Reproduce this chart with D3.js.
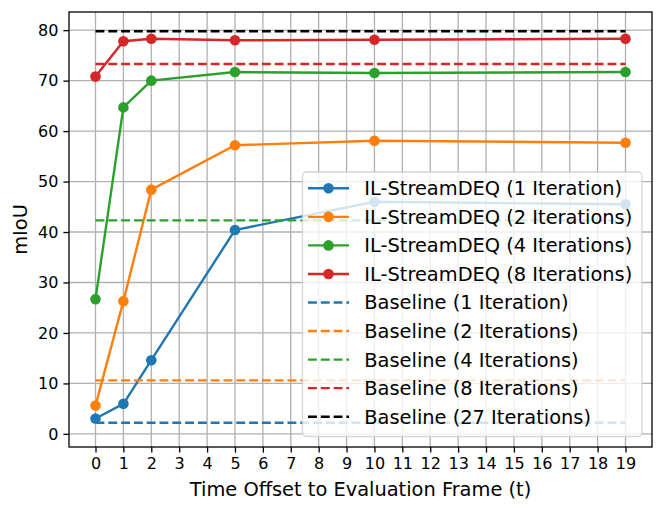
<!DOCTYPE html>
<html>
<head>
<meta charset="utf-8">
<script src="https://cdn.jsdelivr.net/npm/d3@7"></script>
<style>
  body { margin: 0; background: #fff; }
  svg { font-family: "DejaVu Sans", sans-serif; }
</style>
</head>
<body>
<svg id="chart" width="664" height="511"></svg>
<script>
// time offsets where IL-StreamDEQ was evaluated
var offsets = [0, 1, 2, 5, 10, 19];
var xTicks = d3.range(0, 20);
var yTicks = [0, 10, 20, 30, 40, 50, 60, 70, 80];

var il1 = [3.05, 5.95, 14.6, 40.4, 46.0, 45.5];
var il2 = [5.6, 26.3, 48.4, 57.2, 58.1, 57.7];
var il4 = [26.7, 64.7, 70.0, 71.7, 71.5, 71.7];
var il8 = [70.8, 77.8, 78.3, 78.0, 78.1, 78.3];

var baseNames = ["Baseline (1 Iteration)", "Baseline (2 Iterations)", "Baseline (4 Iterations)",
                 "Baseline (8 Iterations)", "Baseline (27 Iterations)"];
var baseValues = [2.2, 10.6, 42.3, 73.3, 79.8];

var ilNames = ["IL-StreamDEQ (1 Iteration)", "IL-StreamDEQ (2 Iterations)",
               "IL-StreamDEQ (4 Iterations)", "IL-StreamDEQ (8 Iterations)"];
var ilSeries = [il1, il2, il4, il8];

var colors = ["#1f77b4", "#ff7f0e", "#2ca02c", "#d62728", "#000000"];

var axLeft = 69, axRight = 652, axTop = 12, axBottom = 447,
    lw = 2.4, dash = "8.9,3.9", markerR = 5.3;

var svg = d3.select("#chart");

var x = d3.scaleLinear().domain([-0.95, 19.95]).range([axLeft, axRight]);
var y = d3.scaleLinear().domain([-2.6, 83.6]).range([axBottom, axTop]);

// grid
var grid = svg.append("g").attr("stroke", "#b0b0b0").attr("stroke-width", 1.3);
grid.selectAll(".gx").data(xTicks).enter().append("line")
    .attr("x1", function(d) { return x(d); })
    .attr("x2", function(d) { return x(d); })
    .attr("y1", axTop).attr("y2", axBottom);
grid.selectAll(".gy").data(yTicks).enter().append("line")
    .attr("y1", function(d) { return y(d); })
    .attr("y2", function(d) { return y(d); })
    .attr("x1", axLeft).attr("x2", axRight);

var line = d3.line()
    .x(function(d, i) { return x(offsets[i]); })
    .y(function(d) { return y(d); });

// IL-StreamDEQ curves
ilSeries.forEach(function(s, k) {
    var g = svg.append("g");
    g.append("path")
        .attr("d", line(s))
        .attr("fill", "none")
        .attr("stroke", colors[k])
        .attr("stroke-width", lw);
    g.selectAll("circle").data(s).enter().append("circle")
        .attr("cx", function(d, i) { return x(offsets[i]); })
        .attr("cy", function(d) { return y(d); })
        .attr("r", markerR)
        .attr("fill", colors[k]);
});

// baselines
svg.append("g").selectAll("line").data(baseValues).enter().append("line")
    .attr("x1", x(0)).attr("x2", x(19))
    .attr("y1", function(d) { return y(d); })
    .attr("y2", function(d) { return y(d); })
    .attr("stroke", function(d, i) { return colors[i]; })
    .attr("stroke-width", lw)
    .attr("stroke-dasharray", dash);

// axes
var xAxis = d3.axisBottom(x).tickValues(xTicks).tickSize(5.6).tickPadding(5);
var yAxis = d3.axisLeft(y).tickValues(yTicks).tickSize(5.6).tickPadding(5);

var gx = svg.append("g").attr("transform", "translate(0," + axBottom + ")").call(xAxis);
var gy = svg.append("g").attr("transform", "translate(" + axLeft + ",0)").call(yAxis);
[gx, gy].forEach(function(g) {
    g.select(".domain").remove();
    g.selectAll(".tick line").attr("stroke", "#000").attr("stroke-width", 1.3);
    g.selectAll(".tick text").attr("fill", "#000")
        .style("font-size", "16px").style("font-family", "DejaVu Sans");
});

svg.append("rect")
    .attr("x", axLeft).attr("y", axTop)
    .attr("width", axRight - axLeft).attr("height", axBottom - axTop)
    .attr("fill", "none").attr("stroke", "#000").attr("stroke-width", 1.3);

svg.append("text")
    .attr("x", (axLeft + axRight) / 2).attr("y", 496)
    .attr("text-anchor", "middle")
    .style("font-size", "19.4px")
    .text("Time Offset to Evaluation Frame (t)");

svg.append("text")
    .attr("transform", "translate(27," + (axTop + axBottom) / 2 + ") rotate(-90)")
    .attr("text-anchor", "middle")
    .style("font-size", "19.4px")
    .text("mIoU");

// legend
var legend = svg.append("g");
var lx = 302.5, ly = 172, lwid = 339.5, lhei = 264.5, rowY = 188.3, rowStep = 28.55;
legend.append("rect")
    .attr("x", lx).attr("y", ly).attr("width", lwid).attr("height", lhei)
    .attr("rx", 4).attr("ry", 4)
    .attr("fill", "#fff").attr("fill-opacity", 0.8)
    .attr("stroke", "#cccccc").attr("stroke-opacity", 0.8).attr("stroke-width", 1.3);

var entries = ilNames.map(function(n, i) { return {name: n, color: colors[i], dashed: false}; })
    .concat(baseNames.map(function(n, i) { return {name: n, color: colors[i], dashed: true}; }));

var rows = legend.selectAll(".row").data(entries).enter().append("g")
    .attr("transform", function(d, i) { return "translate(0," + (rowY + i * rowStep) + ")"; });
rows.append("line")
    .attr("x1", 308).attr("x2", 349)
    .attr("stroke", function(d) { return d.color; })
    .attr("stroke-width", lw)
    .attr("stroke-dasharray", function(d) { return d.dashed ? dash : null; });
rows.filter(function(d) { return !d.dashed; }).append("circle")
    .attr("cx", 328.5).attr("r", markerR)
    .attr("fill", function(d) { return d.color; });
rows.append("text")
    .attr("x", 364.3).attr("dy", "0.36em")
    .style("font-size", "19.4px")
    .text(function(d) { return d.name; });
</script>
</body>
</html>
